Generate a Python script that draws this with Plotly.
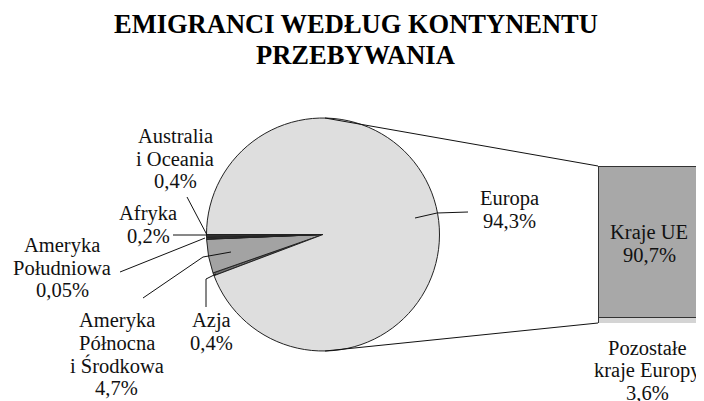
import plotly.graph_objects as go

# pie: share of emigrants by continent (%)
continents = ["Azja", "Ameryka<br>Północna<br>i Środkowa", "Ameryka<br>Południowa",
              "Afryka", "Australia<br>i Oceania", "Europa"]
continent_values = [0.4, 4.7, 0.05, 0.2, 0.4, 94.3]
continent_colors = ["#6e6e6e", "#a3a3a3", "#202020", "#505050", "#303030", "#dedede"]

# bar: breakdown of Europe (%)
europe_parts = ["Pozostałe<br>kraje Europy", "Kraje UE"]
europe_values = [3.6, 90.7]
europe_colors = ["#d4d4d4", "#a8a8a8"]

title_lines = ["EMIGRANCI WEDŁUG KONTYNENTU", "PRZEBYWANIA"]

# page body has an 8px margin, so work in window pixels and shift
OFF = 8
W, H = 704 - OFF, 401 - OFF
FONT = "Liberation Serif, Times New Roman, serif"
PITCH = 22.7  # line spacing of labels, px


def px(x):
    return (x - OFF) / W


def py(y):
    return 1 - (y - OFF) / H


def pct(v):
    return f"{v:g}".replace(".", ",") + "%"


# pie geometry (window pixels)
cx, cy, r = 323, 234.5, 116.5
# bar geometry (window pixels)
bx0, bx1, by_top, by_bot = 598, 700, 166, 323

fig = go.Figure()

others = sum(continent_values[:-1]) / sum(continent_values) * 360
fig.add_trace(go.Pie(
    labels=continents,
    values=continent_values,
    sort=False,
    direction="clockwise",
    rotation=270 - others,
    marker=dict(colors=continent_colors, line=dict(color="#222222", width=1)),
    textinfo="none",
    hoverinfo="skip",
    showlegend=False,
    domain=dict(x=[px(cx - r), px(cx + r)], y=[py(cy + r), py(cy - r)]),
))

for name, val, col in zip(europe_parts, europe_values, europe_colors):
    fig.add_trace(go.Bar(
        x=[0], y=[val], width=1, name=name,
        marker=dict(color=col, line=dict(color="#333333", width=1)),
        xaxis="x2", yaxis="y2", showlegend=False, hoverinfo="skip",
    ))

# connector lines pie -> bar
shapes = [
    dict(type="line", xref="paper", yref="paper",
         x0=px(cx + 2), y0=py(cy - r), x1=px(bx0), y1=py(by_top)),
    dict(type="line", xref="paper", yref="paper",
         x0=px(cx + 2), y0=py(cy + r), x1=px(bx0), y1=py(by_bot)),
]

# leader lines (window pixel points)
leaders = [
    [(187, 197), (207, 235)],
    [(173, 235), (207, 235)],
    [(120, 272), (205, 238)],
    [(143, 298), (203, 257), (231, 252)],
    [(206, 307), (206, 279), (216, 274)],
    [(468, 212), (437, 213), (415, 218)],
]
for pts in leaders:
    d = "M " + " L ".join(f"{px(x)},{py(y)}" for x, y in pts)
    shapes.append(dict(type="path", xref="paper", yref="paper", path=d))
for s in shapes:
    s["line"] = dict(color="#111111", width=1)

# label positions: centre x, centre y of first line (window pixels)
label_pos = {
    "Azja": (212, 320),
    "Ameryka<br>Północna<br>i Środkowa": (117, 320),
    "Ameryka<br>Południowa": (62, 245),
    "Afryka": (148, 213),
    "Australia<br>i Oceania": (175, 136),
    "Europa": (509, 198),
    "Kraje UE": (649, 232),
    "Pozostałe<br>kraje Europy": (647, 348),
}

annotations = []


def add_label(name, val):
    x, y0 = label_pos[name]
    lines = name.split("<br>") + [pct(val)]
    for i, line in enumerate(lines):
        annotations.append(dict(
            text=line, x=px(x), y=py(y0 + i * PITCH),
            font=dict(family=FONT, size=20.5, color="#111111")))


for name, val in zip(continents, continent_values):
    add_label(name, val)
for name, val in zip(europe_parts, europe_values):
    add_label(name, val)

for i, line in enumerate(title_lines):
    annotations.append(dict(
        text=f"<b>{line}</b>", x=px(355.5), y=py(24 + i * 31),
        font=dict(family=FONT, size=26.5, color="#000000")))

for a in annotations:
    a.update(xref="paper", yref="paper", showarrow=False,
             xanchor="center", yanchor="middle")

fig.update_layout(
    width=W, height=H,
    margin=dict(l=0, r=0, t=0, b=0),
    paper_bgcolor="white", plot_bgcolor="white",
    barmode="stack",
    xaxis2=dict(domain=[px(bx0), px(bx1)], range=[-0.5, 0.5], visible=False,
                fixedrange=True),
    yaxis2=dict(domain=[py(by_bot), py(by_top)], range=[0, sum(europe_values)],
                visible=False, fixedrange=True, anchor="x2"),
    xaxis=dict(visible=False),
    yaxis=dict(visible=False),
    shapes=shapes,
    annotations=annotations,
)

fig.write_html("out.html")
